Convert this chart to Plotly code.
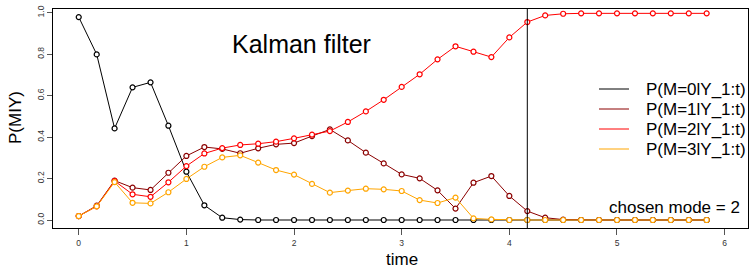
import plotly.graph_objects as go

# time grid (steps of 1/6)
time = [0.000, 0.167, 0.333, 0.500, 0.667, 0.833, 1.000, 1.167, 1.333, 1.500,
        1.667, 1.833, 2.000, 2.167, 2.333, 2.500, 2.667, 2.833, 3.000, 3.167,
        3.333, 3.500, 3.667, 3.833, 4.000, 4.167, 4.333, 4.500, 4.667, 4.833,
        5.000, 5.167, 5.333, 5.500, 5.667, 5.833]

p_m0 = [0.979, 0.799, 0.442, 0.640, 0.664, 0.455, 0.233, 0.071, 0.011, 0.002,
        0.000, 0.000, 0.000, 0.000, 0.000, 0.000, 0.000, 0.000, 0.000, 0.000,
        0.000, 0.000, 0.000, 0.000, 0.000, 0.000, 0.000, 0.000, 0.000, 0.000,
        0.000, 0.000, 0.000, 0.000, 0.000, 0.000]
p_m1 = [0.019, 0.069, 0.190, 0.156, 0.145, 0.228, 0.309, 0.352, 0.343, 0.322,
        0.346, 0.365, 0.371, 0.405, 0.437, 0.384, 0.325, 0.273, 0.220, 0.201,
        0.143, 0.055, 0.180, 0.212, 0.116, 0.043, 0.011, 0.002, 0.000, 0.000,
        0.000, 0.000, 0.000, 0.000, 0.000, 0.000]
p_m2 = [0.019, 0.066, 0.188, 0.124, 0.112, 0.182, 0.260, 0.321, 0.347, 0.362,
        0.368, 0.378, 0.394, 0.412, 0.429, 0.473, 0.524, 0.580, 0.642, 0.703,
        0.775, 0.838, 0.812, 0.786, 0.881, 0.955, 0.987, 0.995, 0.997, 0.997,
        0.997, 0.997, 0.997, 0.997, 0.997, 0.997]
p_m3 = [0.019, 0.066, 0.183, 0.083, 0.080, 0.134, 0.198, 0.257, 0.302, 0.312,
        0.277, 0.241, 0.219, 0.174, 0.132, 0.142, 0.151, 0.148, 0.140, 0.096,
        0.082, 0.108, 0.008, 0.003, 0.000, 0.000, 0.000, 0.000, 0.000, 0.000,
        0.000, 0.000, 0.000, 0.000, 0.000, 0.000]

series_names = ["P(M=0|Y_1:t)", "P(M=1|Y_1:t)", "P(M=2|Y_1:t)", "P(M=3|Y_1:t)"]
series_values = [p_m0, p_m1, p_m2, p_m3]
series_colors = ["#000000", "#8B0000", "#FF0000", "#FFA500"]

chosen_time = 4.167
chosen_mode = 2

x_ticks = [0, 1, 2, 3, 4, 5, 6]
y_ticks = [0.0, 0.2, 0.4, 0.6, 0.8, 1.0]
y_tick_labels = ["0.0", "0.2", "0.4", "0.6", "0.8", "1.0"]

FONT = "Liberation Sans, Arial, Helvetica, sans-serif"

fig = go.Figure()
for name, vals, col in zip(series_names, series_values, series_colors):
    fig.add_trace(go.Scatter(
        x=time, y=vals, mode="lines+markers", name=name, showlegend=False,
        line=dict(color=col, width=1),
        marker=dict(symbol="circle", size=5, color="white",
                    line=dict(color=col, width=1.2)),
    ))

# chosen time vertical line
fig.add_shape(type="line", xref="x", yref="paper", x0=chosen_time, x1=chosen_time,
              y0=0, y1=1, line=dict(color="black", width=1))

# manual legend (R style: line samples + labels)
leg_top_px = 89
leg_step_px = 20
plot_top, plot_h, plot_left, plot_w = 9, 219, 53, 695
for i, (name, col) in enumerate(zip(series_names, series_colors)):
    ypx = leg_top_px + i * leg_step_px
    yp = (plot_top + plot_h - ypx) / plot_h
    fig.add_shape(type="line", xref="paper", yref="paper",
                  x0=(599 - plot_left) / plot_w, x1=(629 - plot_left) / plot_w,
                  y0=yp, y1=yp, line=dict(color=col, width=1))
    fig.add_annotation(xref="paper", yref="paper", x=(644 - plot_left) / plot_w, y=yp,
                       text=name.replace("|", "l"), showarrow=False, xanchor="left",
                       yanchor="middle", font=dict(size=17, color="black", family=FONT))

fig.add_annotation(xref="x", yref="y", x=2.07, y=0.85, text="Kalman filter",
                   showarrow=False, xanchor="center", yanchor="middle",
                   font=dict(size=25, color="black", family=FONT))
fig.add_annotation(xref="paper", yref="y", x=1.0 - 6 / plot_w, y=0.058,
                   text=f"chosen mode = {chosen_mode}", showarrow=False,
                   xanchor="right", yanchor="middle",
                   font=dict(size=17, color="black", family=FONT))
# axis titles
fig.add_annotation(xref="paper", yref="paper", x=(15 - plot_left) / plot_w, y=(228 - 118) / plot_h,
                   text="P(MIY)", textangle=-90, showarrow=False,
                   xanchor="center", yanchor="middle",
                   font=dict(size=17, color="black", family=FONT))
fig.add_annotation(xref="x", yref="paper", x=3.0, y=(228 - 259.5) / plot_h,
                   text="time", showarrow=False, xanchor="center", yanchor="middle",
                   font=dict(size=17, color="black", family=FONT))

fig.update_layout(
    width=749, height=266,
    margin=dict(l=53, r=1, t=9, b=38),
    paper_bgcolor="white", plot_bgcolor="white",
    font=dict(family=FONT),
    xaxis=dict(range=[-0.239, 6.217], tickvals=x_ticks, ticks="outside", ticklen=6,
               tickcolor="#555", showline=True, mirror=True, linecolor="black",
               linewidth=1, showgrid=False, zeroline=False,
               tickfont=dict(size=8.5, color="#333"), ticklabelstandoff=1),
    yaxis=dict(range=[-0.0386, 1.018], tickvals=y_ticks, ticktext=y_tick_labels,
               ticks="outside", ticklen=5, tickcolor="#555", tickangle=-90,
               showline=True, mirror=True, linecolor="black", linewidth=1,
               showgrid=False, zeroline=False,
               tickfont=dict(size=8.5, color="#333"), ticklabelstandoff=0),
)

fig.write_html("out.html", config={"displayModeBar": False},
               post_script="document.body.style.margin='0';document.body.style.overflow='hidden';")
